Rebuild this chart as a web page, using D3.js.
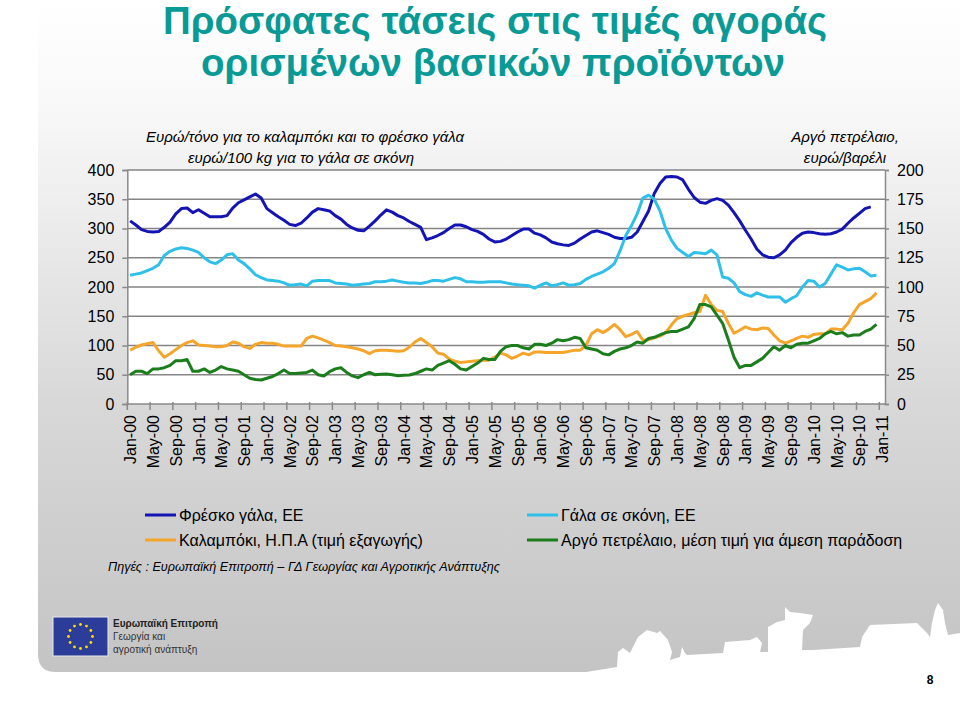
<!DOCTYPE html>
<html><head><meta charset="utf-8">
<script src="https://cdn.jsdelivr.net/npm/d3@7"></script>
<style>body{margin:0;background:#fff}svg{display:block}text{font-family:"Liberation Sans",Arial,sans-serif}</style>
</head><body><svg id="c" width="960" height="709"></svg>
<script>
// ---------- data ----------
const monthNames = ["Jan","Feb","Mar","Apr","May","Jun","Jul","Aug","Sep","Oct","Nov","Dec"];
const years = ["00","01","02","03","04","05","06","07","08","09","10","11"];
const categories = [];
years.forEach(y => monthNames.forEach(m => { if (!(y === "11" && m !== "Jan")) categories.push(m + "-" + y); }));
const tickLabels = ["Jan-00","May-00","Sep-00","Jan-01","May-01","Sep-01","Jan-02","May-02","Sep-02","Jan-03","May-03","Sep-03","Jan-04","May-04","Sep-04","Jan-05","May-05","Sep-05","Jan-06","May-06","Sep-06","Jan-07","May-07","Sep-07","Jan-08","May-08","Sep-08","Jan-09","May-09","Sep-09","Jan-10","May-10","Sep-10","Jan-11"];
const leftTicks = [0,50,100,150,200,250,300,350,400];
const rightTicks = [0,25,50,75,100,125,150,175,200];

// Fresh milk, EU (euro/tonne) - left axis
const freshMilk = [313,306,298,295,294,295,302,311,325,334,
335,327,332,326,320,320,320,322,335,344,
349,354,359,352,334,327,320,314,307,305,
309,318,328,334,332,330,322,316,307,301,
297,296,304,313,323,332,328,322,318,312,
307,302,281,284,288,293,300,306,306,303,
298,295,290,282,277,278,282,288,294,299,
299,292,289,284,277,274,272,271,275,282,
288,294,296,293,290,285,283,283,285,294,
312,330,360,377,388,389,388,383,367,353,
345,343,348,351,348,340,327,313,297,282,
265,255,251,250,255,263,276,285,292,294,
293,291,290,291,294,299,309,318,326,334,
337];
// Milk powder, EU (euro/100 kg) - left axis
const milkPowder = [220,222,224,228,232,238,254,261,265,267,
266,263,259,250,243,240,246,255,257,246,
240,231,221,216,212,211,210,207,203,204,
205,202,210,211,211,211,207,206,205,203,
204,205,206,209,209,210,212,210,208,207,
207,206,208,211,211,210,213,216,214,209,
209,208,208,209,209,209,207,205,204,203,
202,198,203,207,202,204,207,203,204,206,
213,218,222,226,232,240,262,288,305,325,
352,357,350,330,300,280,266,259,252,259,
258,257,263,255,217,215,207,192,187,184,
190,186,183,183,183,174,180,185,200,211,
210,200,206,222,238,234,229,231,232,226,
219,220];
// Maize, USA (export price, euro/tonne) - left axis
const maize = [92,97,101,103,105,91,80,86,93,100,
105,108,101,100,99,98,98,100,106,104,
98,95,102,105,104,104,102,99,99,99,
99,112,116,113,109,105,100,99,98,96,
94,91,86,91,92,92,91,90,91,97,
106,112,105,98,87,85,77,73,71,72,
73,74,75,75,80,87,84,78,82,87,
84,89,89,88,88,88,88,90,92,92,
100,120,127,122,128,136,127,115,119,124,
109,110,113,116,122,135,146,150,153,156,
158,186,170,160,158,138,121,126,132,128,
127,130,129,118,108,104,108,112,116,114,
119,120,120,128,128,127,138,156,170,175,
180,190];
// Crude oil, average spot price (euro/barrel) - right axis
const crudeOil = [25,28,28,26,30,30,31,33,37,37,
38,28,28,30,27,29,32,30,29,28,
25,22,21,20.5,22,23.5,26,29,26,26,
26.5,27,29,25,24,27.6,30,31,27,24,
22.5,25,27,25,25.5,25.6,25,24.2,24.5,24.8,
26,28,30,29,33,35,37,34,30,29,
32,35,39,38,38,45,49,50,50,48,
47,51,51,50,52,55,54,55,57,56,
48,47,46,43,42,45,47,48,50,53,
52,56,57,59,61,62,62,64,66,73,
85,85,83,76,69,55,40,31,33,33,
36,39,44,49,46,50,48,51,52,52,
54,56,60,62,60,61,58,59,59,62,
64,68];

const seriesNames = ["Φρέσκο γάλα, ΕΕ","Γάλα σε σκόνη, ΕΕ","Καλαμπόκι, Η.Π.Α (τιμή εξαγωγής)","Αργό πετρέλαιο, μέση τιμή για άμεση παράδοση"];
const seriesColors = ["#1414b4","#2fc0ea","#f5a52a","#1c7d1c"];

// ---------- layout ----------
const svg = d3.select("#c");
const L = 127.3, R = 885, T = 170, B = 404;

const defs = svg.append("defs");
const g1 = defs.append("linearGradient").attr("id","bg").attr("x1",0).attr("y1",0).attr("x2",0).attr("y2",1);
[[0,"#ffffff"],[0.15,"#f9f9f9"],[0.6,"#d8d8d8"],[1,"#c4c4c4"]].forEach(s=>g1.append("stop").attr("offset",s[0]).attr("stop-color",s[1]));

svg.append("rect").attr("width",960).attr("height",709).attr("fill","#fff");
svg.append("path").attr("d","M38,0 H960 V672 H56 Q38,672 38,654 Z").attr("fill","url(#bg)");
svg.append("path").attr("fill","#fff").attr("d",
 "M580,673 L617,667 L618,652 L623,648 L630,653 L638,637 L647,630 L657,633 L660,631 L668,640 L672,652 L670,660 L680,657 L682,647 L685,653 L687,655 L723,653 L725,642 L750,640 L757,637 L762,643 L760,652 L768,652 L768,627 L777,622 L785,620 L785,607 L790,612 L800,613 L813,615 L810,623 L803,630 L802,650 L813,650 L860,647 L862,637 L870,625 L917,623 L927,633 L930,637 L932,623 L935,610 L938,603 L943,610 L945,623 L948,635 L960,633 L960,709 L580,709 Z");

// title
const title = svg.append("g").attr("fill","#0a9a96").attr("font-weight","bold").attr("text-anchor","middle").style("font-family","'Open Sans','Liberation Sans',sans-serif");
title.append("text").attr("x",495).attr("y",34).attr("font-size",38).attr("textLength",664).attr("lengthAdjust","spacingAndGlyphs").text("Πρόσφατες τάσεις στις τιμές αγοράς");
title.append("text").attr("x",493).attr("y",76).attr("font-size",38).attr("textLength",584).attr("lengthAdjust","spacingAndGlyphs").text("ορισμένων βασικών προϊόντων");

// scales
const x = d3.scaleBand().domain(d3.range(categories.length)).range([L,R]).padding(0);
const xc = i => x(i) + x.bandwidth()/2;
const yL = d3.scaleLinear().domain([0,400]).range([B,T]);
const yR = d3.scaleLinear().domain([0,200]).range([B,T]);

// plot area
svg.append("rect").attr("x",L).attr("y",T).attr("width",R-L).attr("height",B-T).attr("fill","#fff");
svg.append("g").selectAll("line").data(leftTicks.filter(d=>d>0)).join("line")
  .attr("x1",L).attr("x2",R).attr("y1",d=>yL(d)).attr("y2",d=>yL(d))
  .attr("stroke","#858585").attr("stroke-width",1.5);

const axL = svg.append("g").attr("transform",`translate(${L},0)`)
  .call(d3.axisLeft(yL).tickValues(leftTicks).tickSize(5).tickPadding(8));
axL.selectAll("text").attr("font-size",16).attr("fill","#000");
axL.selectAll("line,path").attr("stroke","#8a8a8a").attr("stroke-width",1.5);
const axR = svg.append("g").attr("transform",`translate(${R},0)`)
  .call(d3.axisRight(yR).tickValues(rightTicks).tickSize(4).tickPadding(8));
axR.selectAll("text").attr("font-size",16).attr("fill","#000");
axR.selectAll("line,path").attr("stroke","#8a8a8a").attr("stroke-width",1.5);

const tickIdx = tickLabels.map(t => categories.indexOf(t));
const axB = svg.append("g");
axB.append("line").attr("x1",L).attr("x2",R).attr("y1",B).attr("y2",B).attr("stroke","#8a8a8a").attr("stroke-width",1.5);
axB.selectAll("line.t").data(tickIdx).join("line").attr("class","t")
  .attr("x1",d=>x(d)).attr("x2",d=>x(d)).attr("y1",B-2).attr("y2",B+6)
  .attr("stroke","#8a8a8a").attr("stroke-width",1.5);
axB.selectAll("text").data(tickLabels).join("text")
  .attr("transform",(d,i)=>`translate(${xc(tickIdx[i])+6},${B+11}) rotate(-90)`)
  .attr("text-anchor","end").attr("font-size",16).attr("fill","#000").text(d=>d);

const at = svg.append("g").attr("font-style","italic").attr("font-size",15).attr("text-anchor","middle").attr("fill","#000");
at.append("text").attr("x",305).attr("y",142).text("Ευρώ/τόνο για το καλαμπόκι και το φρέσκο γάλα");
at.append("text").attr("x",301).attr("y",163).text("ευρώ/100 kg για το γάλα σε σκόνη");
at.append("text").attr("x",845).attr("y",142).text("Αργό πετρέλαιο,");
at.append("text").attr("x",845).attr("y",163).text("ευρώ/βαρέλι");

const lineL = d3.line().x((d,i)=>xc(i)).y(d=>yL(d));
const lineR = d3.line().x((d,i)=>xc(i)).y(d=>yR(d));
const lines = svg.append("g").attr("fill","none").attr("stroke-width",3).attr("stroke-linejoin","round");
[[freshMilk,lineL],[milkPowder,lineL],[maize,lineL],[crudeOil,lineR]].forEach((s,k)=>{
  lines.append("path").attr("d",s[1](s[0])).attr("stroke",seriesColors[k]);
});
axR.raise();

const legPos = [[145,515],[527,515],[145,540],[527,540]];
const leg = svg.append("g");
seriesNames.forEach((n,k)=>{
  const [lx,ly] = legPos[k];
  leg.append("line").attr("x1",lx).attr("x2",lx+31).attr("y1",ly).attr("y2",ly).attr("stroke",seriesColors[k]).attr("stroke-width",3);
  leg.append("text").attr("x",lx+34).attr("y",ly+6).attr("font-size",16).attr("fill","#000").text(n);
});

svg.append("text").attr("x",108).attr("y",571).attr("font-size",12).attr("font-style","italic").attr("fill","#000")
  .attr("textLength",392).attr("lengthAdjust","spacingAndGlyphs")
  .text("Πηγές : Ευρωπαϊκή Επιτροπή – ΓΔ Γεωργίας και Αγροτικής Ανάπτυξης");

const logo = svg.append("g");
logo.append("rect").attr("x",53).attr("y",617).attr("width",55).attr("height",39).attr("fill","#2b3d98").attr("stroke","#e8e8e8").attr("stroke-width",1);
d3.range(12).forEach(k=>{
  const a = k*Math.PI/6;
  logo.append("circle").attr("cx",80.5+12*Math.cos(a)).attr("cy",636.5+12*Math.sin(a)).attr("r",1.4).attr("fill","#ffdd00");
});
logo.append("text").attr("x",113).attr("y",627).attr("font-size",10).attr("font-weight","bold").attr("fill","#222").text("Ευρωπαϊκή Επιτροπή");
logo.append("text").attr("x",113).attr("y",640).attr("font-size",10).attr("fill","#333").text("Γεωργία και");
logo.append("text").attr("x",113).attr("y",653).attr("font-size",10).attr("fill","#333").text("αγροτική ανάπτυξη");

svg.append("text").attr("x",930).attr("y",684).attr("font-size",12).attr("font-weight","bold").attr("text-anchor","middle").attr("fill","#000").text("8");
</script></body></html>
